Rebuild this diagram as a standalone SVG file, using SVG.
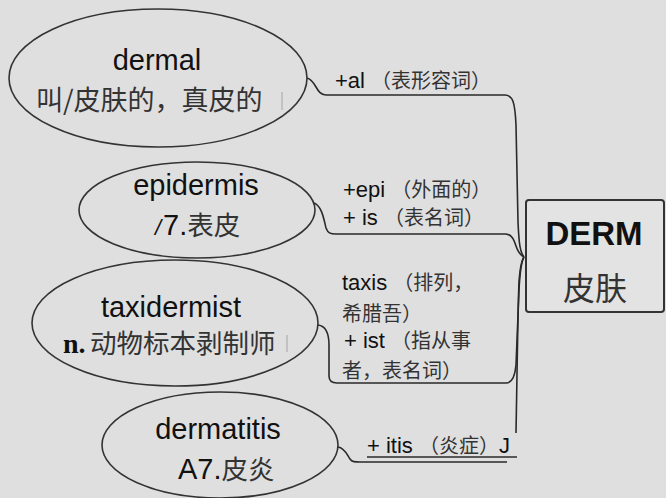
<svg xmlns="http://www.w3.org/2000/svg" width="666" height="498" viewBox="0 0 666 498">
<style>
.bg{fill:#dfdfdf}
.ell{fill:none;stroke:#333;stroke-width:1.6}
.con{fill:none;stroke:#2a2a2a;stroke-width:1.6}
.en{font-family:"Liberation Sans",Arial,sans-serif;fill:#111}
.cn{font-family:"Noto Sans CJK SC","Liberation Sans",sans-serif;fill:#333}
.big{font-size:29px}
.cbig{font-size:26.5px}
.lab{font-size:22px}
.clab{font-size:20px}
.art{stroke:#b8b8b8;stroke-width:1.5}
</style>
<rect class="bg" x="0" y="0" width="666" height="498"/>
<g id="connectors">
<path class="con" d="M307 78 C316 80 316 95 326 95 H505 C513 95 515 103 516 125 L518 222 C519 244 520 252 524 257"/>
<path class="con" d="M314 203 C322 206 324 220 326 228 C328 233 330 234 336 234 H505 C512 234 514 240 516 246 C518 252 520 255 524 257"/>
<path class="con" d="M318 325 C326 326 329 335 329 345 V376 C329 381 332 383 337 383 H506 C512 383 515 376 516 365 L519 290 C520 270 521 262 524 257"/>
<path class="con" d="M338 447 C345 448 347 455 350 459 C352 462 355 462 360 462 H507"/>
<path class="con" d="M516 433 C517 380 518 300 519 282 C520 268 521 261 524 257"/>
<line class="con" x1="367" y1="457" x2="517" y2="457" stroke-width="1.4"/>
</g>
<g id="node-dermal">
<ellipse class="ell" cx="158" cy="78" rx="149" ry="69"/>
<text class="en big" x="157" y="70" text-anchor="middle">dermal</text>
<text class="cn" x="36" y="110" font-size="27">叫/皮肤的，真皮的</text>
<line class="art" x1="282" y1="92" x2="282" y2="110"/>
</g>
<g id="node-epidermis">
<ellipse class="ell" cx="197" cy="210" rx="118" ry="48"/>
<text class="en big" x="196" y="195" text-anchor="middle">epidermis</text>
<text x="155" y="235"><tspan class="en" font-size="22" fill="#555" font-style="italic">/</tspan><tspan class="en big" x="163">7.</tspan><tspan class="cn cbig">表皮</tspan></text>
</g>
<g id="node-taxidermist">
<ellipse class="ell" cx="175" cy="323" rx="143" ry="63"/>
<text class="en big" x="171" y="317" text-anchor="middle">taxidermist</text>
<text x="63" y="353"><tspan font-family="'Liberation Serif',serif" font-weight="bold" font-size="28" fill="#111">n.</tspan><tspan class="cn cbig" x="90">动物标本剥制师</tspan></text>
<line class="art" x1="287" y1="335" x2="287" y2="352"/>
</g>
<g id="node-dermatitis">
<ellipse class="ell" cx="220" cy="445" rx="118" ry="53"/>
<text class="en big" x="218" y="439" text-anchor="middle">dermatitis</text>
<text x="178" y="479"><tspan class="en big">A7.</tspan><tspan class="cn cbig">皮炎</tspan></text>
</g>
<g id="node-derm">
<rect x="526" y="200" width="138" height="112" rx="3" fill="#e3e3e3" stroke="#333" stroke-width="2"/>
<text class="en" x="594" y="245" font-size="33" font-weight="bold" text-anchor="middle">DERM</text>
<text class="cn" x="595" y="300" font-size="32" text-anchor="middle">皮肤</text>
</g>
<g id="labels">
<text x="335" y="88"><tspan class="en lab">+al </tspan><tspan class="cn clab">（表形容词）</tspan></text>
<text x="343" y="197"><tspan class="en lab">+epi </tspan><tspan class="cn clab">（外面的）</tspan></text>
<text x="343" y="225"><tspan class="en lab">+ is </tspan><tspan class="cn clab">（表名词）</tspan></text>
<text x="342" y="290"><tspan class="en lab">taxis </tspan><tspan class="cn clab">（排列，</tspan></text>
<text class="cn clab" x="342" y="321">希腊吾）</text>
<text x="344" y="348"><tspan class="en lab">+ ist </tspan><tspan class="cn clab">（指从事</tspan></text>
<text class="cn clab" x="342" y="378">者，表名词）</text>
<text x="367" y="453"><tspan class="en lab">+ itis </tspan><tspan class="cn clab">（炎症）</tspan><tspan class="en lab">J</tspan></text>
</g>
</svg>
